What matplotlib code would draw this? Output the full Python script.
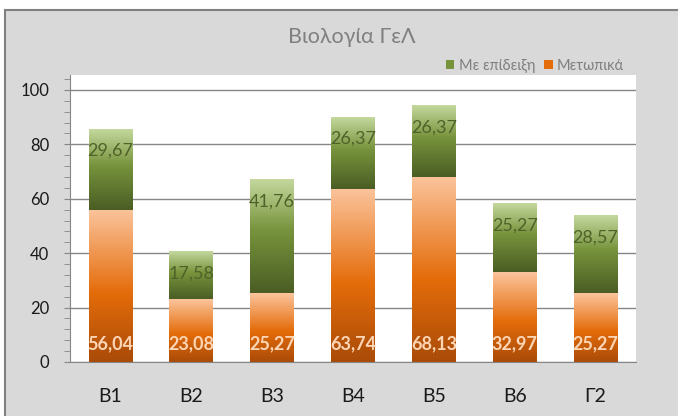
import matplotlib.pyplot as plt
import numpy as np
from matplotlib.colors import LinearSegmentedColormap
from matplotlib.patches import Rectangle, Patch
from matplotlib.ticker import MultipleLocator

plt.rcParams['font.family'] = ['Lato', 'Noto Sans', 'DejaVu Sans']

title = 'Βιολογία ΓεΛ'
categories = ['Β1', 'Β2', 'Β3', 'Β4', 'Β5', 'Β6', 'Γ2']
frontal = [56.04, 23.08, 25.27, 63.74, 68.13, 32.97, 25.27]   # Μετωπικά
demo = [29.67, 17.58, 41.76, 26.37, 26.37, 25.27, 28.57]      # Με επίδειξη
series_names = ['Με επίδειξη', 'Μετωπικά']

orange_cmap = LinearSegmentedColormap.from_list(
    'orange', [(0, '#a94b08'), (0.45, '#e46c0a'), (1, '#fbc49c')])
green_cmap = LinearSegmentedColormap.from_list(
    'green', [(0, '#4a5d24'), (0.55, '#77933c'), (1, '#c4d89e')])


def fill_gradient(ax, bars, cmap):
    grad = np.linspace(0, 1, 256).reshape(-1, 1)
    for b in bars:
        x, y = b.get_x(), b.get_y()
        w, h = b.get_width(), b.get_height()
        ax.imshow(grad, cmap=cmap, origin='lower', aspect='auto',
                  extent=(x, x + w, y, y + h), zorder=2)
        b.set_facecolor('none')


def fmt(v):
    return ('%.2f' % v).replace('.', ',')


fig = plt.figure(figsize=(6.78, 4.16), dpi=100, facecolor='white')
fig.add_artist(Rectangle((5 / 678, -0.05), 1.1, 406 / 416 + 0.05,
                         transform=fig.transFigure, facecolor='#d9d9d9',
                         edgecolor='#808080', lw=1.5, zorder=0))

ax = fig.add_axes([70 / 678, 54 / 416, 566 / 678, 287 / 416])
ax.set_facecolor('white')

x = np.arange(len(categories))
width = 0.54
bars_front = ax.bar(x, frontal, width, color='none', zorder=2)
bars_demo = ax.bar(x, demo, width, bottom=frontal, color='none', zorder=2)
fill_gradient(ax, bars_front, orange_cmap)
fill_gradient(ax, bars_demo, green_cmap)

for i in range(len(categories)):
    ax.annotate(fmt(frontal[i]), (x[i], 0), xytext=(0, 13.5),
                textcoords='offset points', ha='center', va='center',
                fontsize=13, fontweight='bold', color='#fcd5b5', zorder=5)
    ax.annotate(fmt(demo[i]), (x[i], frontal[i] + demo[i]), xytext=(0, -16),
                textcoords='offset points', ha='center', va='center',
                fontsize=13, color='#4f6228', zorder=5)

ax.set_xlim(-0.5, len(categories) - 0.5)
ax.set_ylim(0, 105.5)
ax.set_xticks(x)
ax.set_xticklabels(categories, fontsize=14, color='#1a1a1a')
ax.yaxis.set_major_locator(MultipleLocator(20))
ax.yaxis.set_minor_locator(MultipleLocator(4))
ax.tick_params(axis='x', length=0, pad=19)
ax.tick_params(axis='y', which='both', direction='out', length=4,
               color='#868686', labelsize=12, labelcolor='#1a1a1a', pad=11)
ax.set_axisbelow(True)
ax.grid(axis='y', which='major', color='#868686', lw=1.0)
for s in ['top', 'right']:
    ax.spines[s].set_visible(False)
for s in ['left', 'bottom']:
    ax.spines[s].set_color('#868686')

fig.text(352 / 678, 1 - 37 / 416, title, ha='center', va='center',
         fontsize=15.5, color='#808080')

handles = [Patch(facecolor='#77933c'), Patch(facecolor='#e46c0a')]
fig.legend(handles, series_names, loc='center right',
           bbox_to_anchor=(0.94, 1 - 66 / 416), ncol=2, frameon=False,
           fontsize=10.5, labelcolor='#7f7f7f', handlelength=0.6,
           handleheight=0.6, handletextpad=0.3, columnspacing=0.6)

fig.savefig('out.png', dpi=100)
